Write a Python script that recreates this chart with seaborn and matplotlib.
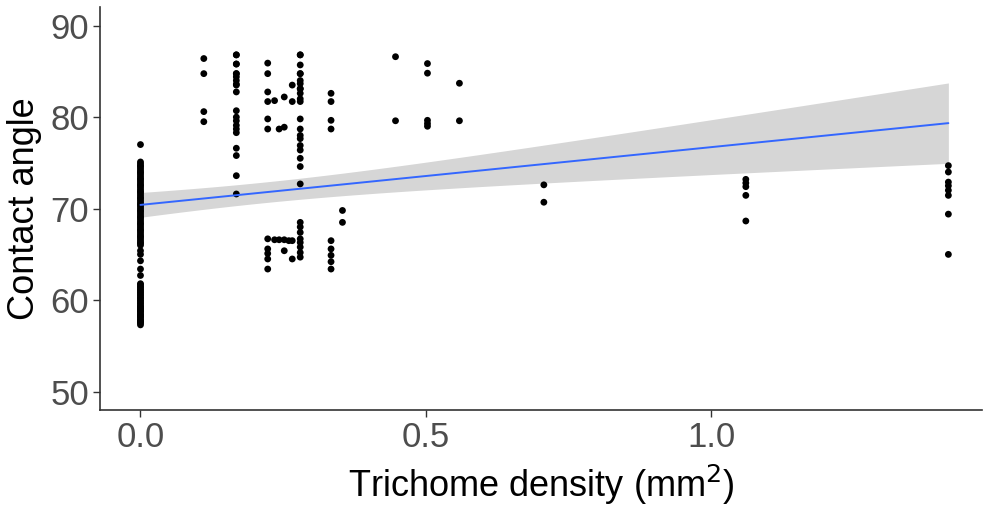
import numpy as np
import pandas as pd
import matplotlib
matplotlib.use("Agg")
import matplotlib.pyplot as plt
import seaborn as sns

# contact angle measurements, grouped by trichome density (per mm2)
angle_d000 = [77.0,
              75.1, 74.9, 74.7, 74.6, 74.4, 74.2, 74.0, 73.9, 73.7, 73.5, 73.3, 73.2,
              73.0, 72.8, 72.6, 72.5, 72.3, 72.1, 71.9, 71.8, 71.6, 71.4, 71.2, 71.1,
              70.9, 70.7, 70.5, 70.4, 70.2, 70.0, 69.8, 69.7, 69.5, 69.3, 69.1, 69.0,
              68.8, 68.6, 68.4, 68.3, 68.1, 67.9, 67.7, 67.6, 67.4, 67.2, 67.0, 66.9,
              66.7, 66.5, 66.3, 66.2, 66.0,
              65.4, 65.0, 64.3, 63.4, 62.7,
              61.8, 61.7, 61.5, 61.4, 61.2, 61.1, 60.9, 60.8, 60.6, 60.5, 60.3, 60.2,
              60.0, 59.9, 59.7, 59.6, 59.4, 59.3, 59.1, 59.0, 58.8, 58.7, 58.5, 58.4,
              58.2, 58.1, 57.9, 57.8, 57.6, 57.5, 57.3, 59.2, 58.9, 58.3, 57.7]
angle_d111 = [86.4, 84.75, 80.6, 79.5]
angle_d168 = [86.8, 86.8, 85.8, 85.8, 84.75, 84.75, 84.4, 84.0, 83.6, 83.5, 82.75,
              80.7, 80.0, 79.6, 79.1, 78.7, 78.3, 76.6, 75.8, 73.6, 71.6]
angle_d223 = [85.9, 84.75, 82.75, 81.7, 79.8, 78.7, 66.7, 65.6, 65.1, 64.5, 63.4]
angle_d280 = [86.8, 86.8, 85.7, 84.75, 84.75, 84.0, 83.66, 83.1, 83.1, 82.6, 82.0,
              81.7, 79.8, 78.7, 78.0, 77.65, 76.9, 76.4, 75.5, 74.6, 72.7, 68.5, 68.0,
              67.4, 66.7, 66.3, 65.8, 65.2, 64.7]
angle_d334 = [82.6, 81.7, 79.65, 78.7, 66.5, 65.6, 64.9, 64.2, 63.4]
angle_d354 = [69.8, 68.5]
angle_d447 = [86.6, 79.6]
angle_d503 = [85.85, 84.8, 79.65, 79.3, 79.0]
angle_d559 = [83.7, 79.6]
angle_d707 = [72.6, 70.7]
angle_d1061 = [73.2, 72.8, 72.4, 71.45, 68.65]
angle_d1416 = [74.7, 74.0, 72.9, 72.5, 72.0, 71.45, 69.4, 65.0]

# scattered samples between 0.22 and 0.28
dens_mid = [0.235, 0.252, 0.266, 0.266, 0.243, 0.252,
            0.235, 0.243, 0.252, 0.260, 0.266, 0.252, 0.266]
angle_mid = [81.8, 82.2, 83.5, 81.7, 78.7, 78.9,
             66.6, 66.6, 66.6, 66.5, 66.5, 65.4, 64.5]

groups = {
    0.0: angle_d000, 0.111: angle_d111, 0.168: angle_d168, 0.223: angle_d223,
    0.280: angle_d280, 0.334: angle_d334, 0.354: angle_d354, 0.447: angle_d447,
    0.503: angle_d503, 0.559: angle_d559, 0.707: angle_d707, 1.061: angle_d1061,
    1.416: angle_d1416,
}

rows = [(d, a) for d, vals in groups.items() for a in vals]
rows += list(zip(dens_mid, angle_mid))
df = pd.DataFrame(rows, columns=["density", "angle"])

# linear fit with a t based 95% band (like geom_smooth(method="lm"))
x = df["density"].to_numpy()
y = df["angle"].to_numpy()
slope, intercept = np.polyfit(x, y, 1)
resid = y - (intercept + slope * x)
n = len(x)
s = np.sqrt((resid ** 2).sum() / (n - 2))
grid = np.linspace(x.min(), x.max(), 80)
se = s * np.sqrt(1 / n + (grid - x.mean()) ** 2 / ((x - x.mean()) ** 2).sum())
t_crit = 1.972
fit = intercept + slope * grid

sns.set_theme(style="ticks")
plt.rcParams['font.family'] = ['Liberation Sans', 'DejaVu Sans']

fig = plt.figure(figsize=(9.84, 5.13), dpi=100)
ax = fig.add_axes([0.1016, 0.2008, 0.8964, 0.785])

ax.fill_between(grid, fit - t_crit * se, fit + t_crit * se, color="#D6D6D6",
                lw=0, zorder=1)
sns.regplot(data=df, x="density", y="angle", scatter=False, ax=ax, ci=None,
            color="#3366FF", line_kws={"lw": 1.4, "zorder": 3})

sns.scatterplot(data=df, x="density", y="angle", ax=ax, color="black",
                s=24, edgecolor="none", linewidth=0, zorder=2)

ax.set_xlim(-0.071, 1.475)
ax.set_ylim(48, 92)
ax.set_xticks([0.0, 0.5, 1.0])
ax.set_xticklabels(["0.0", "0.5", "1.0"])
ax.set_yticks([50, 60, 70, 80, 90])

ax.set_xlabel("Trichome density (mm$^2$)", fontsize=26, color="black", labelpad=6)
ax.set_ylabel("Contact angle", fontsize=26, color="black", labelpad=6)
ax.tick_params(axis="both", labelsize=25, labelcolor="#4D4D4D", color="#333333",
               length=5, width=1, pad=3)

for side in ["top", "right"]:
    ax.spines[side].set_visible(False)
for side in ["left", "bottom"]:
    ax.spines[side].set_color("#333333")
    ax.spines[side].set_linewidth(1.2)

fig.savefig("out.png", dpi=100, facecolor="white")
